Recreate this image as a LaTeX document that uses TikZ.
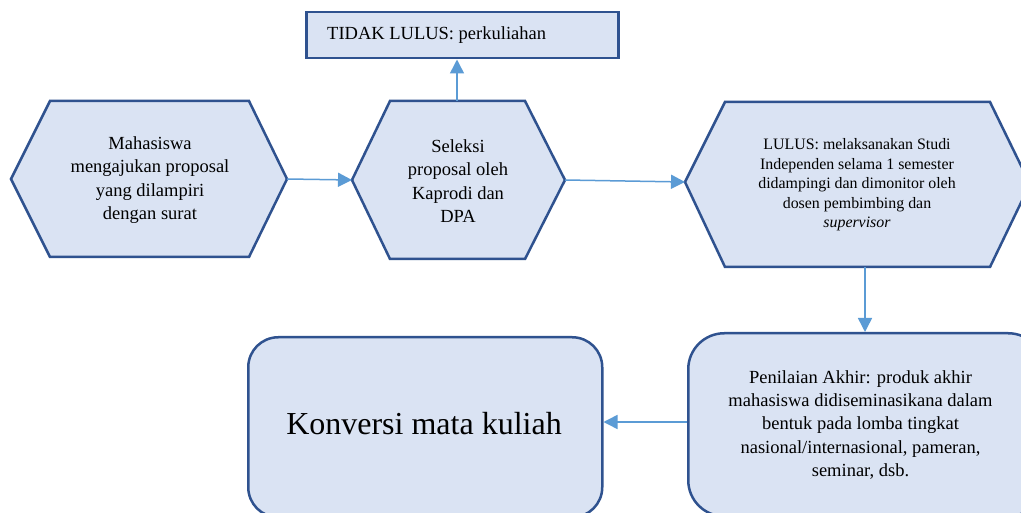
\documentclass[tikz,border=0pt]{standalone}
\usepackage{fontspec}
\setmainfont{Liberation Serif}
\usetikzlibrary{arrows.meta}
\definecolor{boxfill}{HTML}{DAE3F3}
\definecolor{boxline}{HTML}{2F528F}
\definecolor{arrowcol}{HTML}{5B9BD5}
\begin{document}
\begin{tikzpicture}[x=1pt,y=-1pt,
  shapebox/.style={draw=boxline,fill=boxfill,line width=2.5pt,line join=miter},
  conn/.style={draw=arrowcol,line width=1.5pt,-{Triangle[length=14pt,width=14pt]}},
  txt/.style={inner sep=0pt,align=center,font=\fontsize{18.5}{23.3}\selectfont},
  smalltxt/.style={inner sep=0pt,align=center,font=\fontsize{15.9}{19.5}\selectfont}]
\useasboundingbox (0,0) rectangle (1021,513);
\clip (0,0) rectangle (1021,513);
\fill[white] (0,0) rectangle (1021,513);

% hexagon 1
\coordinate (h1w) at (11,179);
\coordinate (h1e) at (287,179);
\draw[shapebox] (50,101) -- (249,101) -- (h1e) -- (249,257) -- (50,257) -- (h1w) -- cycle;
\node[txt] (t1) at (150,180) {Mahasiswa\\mengajukan proposal\\yang dilampiri\\dengan surat};

% hexagon 2
\coordinate (h2w) at (352,180);
\coordinate (h2e) at (565,180);
\coordinate (h2n) at (457,101);
\draw[shapebox] (390,101) -- (525,101) -- (h2e) -- (525,259) -- (390,259) -- (h2w) -- cycle;
\node[txt] (t2) at (458,181) {Seleksi\\proposal oleh\\Kaprodi dan\\DPA};

% TIDAK LULUS box
\node[shapebox,minimum width=312pt,minimum height=46pt,inner sep=0pt,anchor=north west] (tidak) at (305,11) {};
\node[inner sep=0pt,anchor=base west,font=\fontsize{18.5}{23.3}\selectfont] (t0) at (327,40) {TIDAK LULUS: perkuliahan};

% hexagon 3
\coordinate (h3w) at (685,182);
\coordinate (h3e) at (1030,184);
\coordinate (h3s) at (865,267);
\draw[shapebox] (725,102) -- (990,102) -- (h3e) -- (990,267) -- (725,267) -- (h3w) -- cycle;
\node[smalltxt] (t3) at (857,185) {LULUS: melaksanakan Studi\\Independen selama 1 semester\\didampingi dan dimonitor oleh\\dosen pembimbing dan\\\textit{supervisor}};

% Penilaian box
\node[shapebox,rounded corners=36pt,minimum width=356pt,minimum height=183pt,inner sep=0pt,anchor=north west] (pen) at (687,332) {};
\node[txt] (t4) at (860.5,425) {Penilaian Akhir: produk akhir\\mahasiswa didiseminasikana dalam\\bentuk pada lomba tingkat\\nasional/internasional, pameran,\\seminar, dsb.};

% Konversi box
\node[shapebox,rounded corners=30pt,minimum width=354pt,minimum height=180pt,inner sep=0pt,anchor=north west] (konv) at (247,336) {};
\node[inner sep=0pt,font=\fontsize{32}{38}\selectfont] (t5) at (424,424) {Konversi mata kuliah};

% connectors
\coordinate (ay) at (0,422);
\draw[conn] (h1e) -- (h2w);
\draw[conn] (h2n) -- (h2n |- tidak.south);
\draw[conn] (h2e) -- (h3w);
\draw[conn] (h3s) -- (h3s |- pen.north);
\draw[conn] (pen.west |- ay) -- (konv.east |- ay);
\end{tikzpicture}
\end{document}
